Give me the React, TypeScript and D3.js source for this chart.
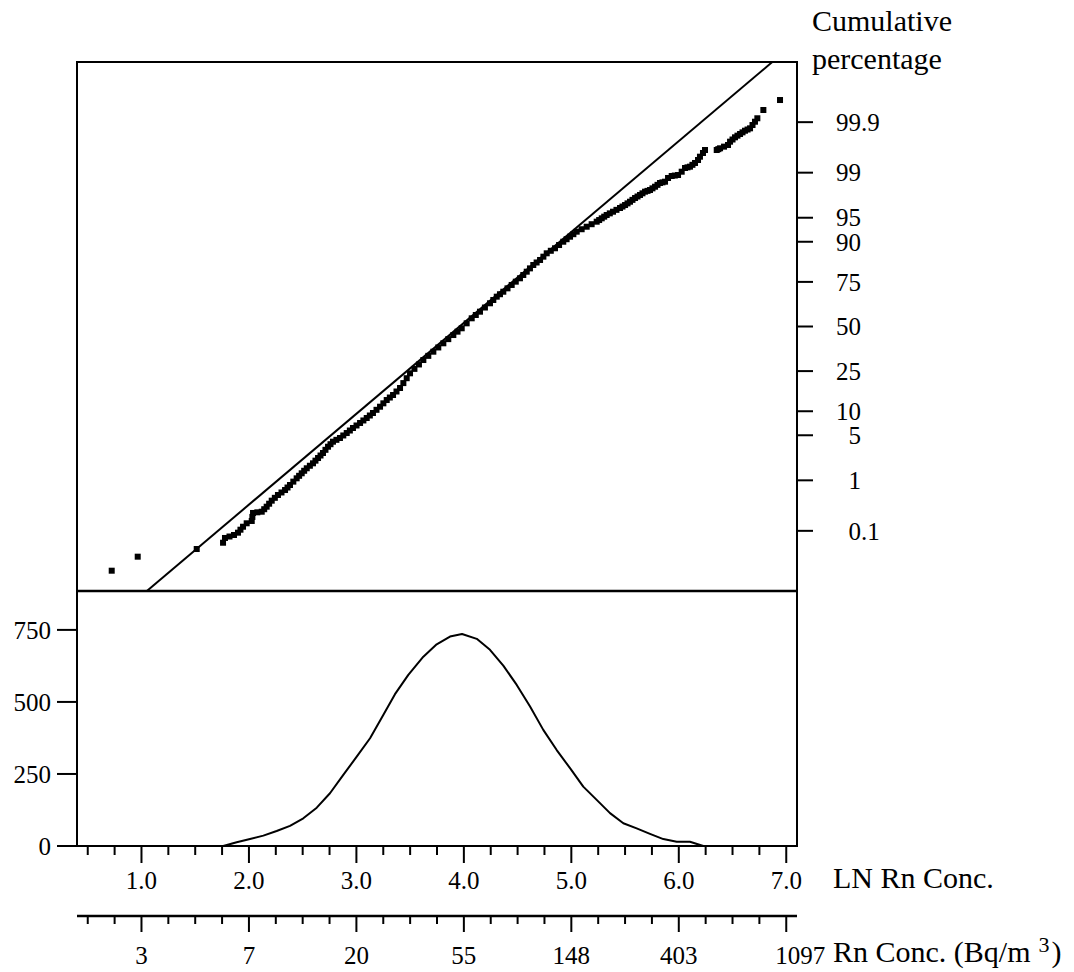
import React from 'react';
import * as d3 from 'd3';

// ---------- data ----------
const lnMajor = [1, 2, 3, 4, 5, 6, 7];
const lnLabels = ['1.0', '2.0', '3.0', '4.0', '5.0', '6.0', '7.0'];
const rnLabels = ['3', '7', '20', '55', '148', '403', '1097'];
const pctTicks = [0.1, 1, 5, 10, 25, 50, 75, 90, 95, 99, 99.9];
const pctLabels = ['0.1', '1', '5', '10', '25', '50', '75', '90', '95', '99', '99.9'];
const countTicks = [0, 250, 500, 750];

// cumulative probability plot points: LN concentration and normal score
const pointLN = [0.723, 0.965, 1.514, 1.759, 1.777, 1.819, 1.861, 1.898, 1.921, 1.945,
  1.979, 2.026, 2.032, 2.038, 2.078, 2.119, 2.142, 2.165, 2.188, 2.212,
  2.241, 2.270, 2.303, 2.336, 2.359, 2.382, 2.413, 2.444, 2.467, 2.491,
  2.514, 2.538, 2.567, 2.596, 2.619, 2.643, 2.666, 2.689, 2.712, 2.736,
  2.759, 2.782, 2.814, 2.847, 2.878, 2.910, 2.939, 2.968, 3.001, 3.034,
  3.065, 3.096, 3.125, 3.154, 3.187, 3.220, 3.251, 3.282, 3.311, 3.341,
  3.373, 3.406, 3.437, 3.468, 3.499, 3.540, 3.582, 3.623, 3.669, 3.716,
  3.762, 3.809, 3.855, 3.902, 3.941, 3.980, 4.026, 4.073, 4.111, 4.150,
  4.196, 4.243, 4.274, 4.306, 4.336, 4.367, 4.406, 4.445, 4.483, 4.522,
  4.553, 4.585, 4.615, 4.646, 4.677, 4.709, 4.740, 4.771, 4.809, 4.848,
  4.886, 4.925, 4.956, 4.988, 5.019, 5.050, 5.096, 5.143, 5.189, 5.236,
  5.259, 5.283, 5.306, 5.329, 5.358, 5.388, 5.420, 5.453, 5.476, 5.500,
  5.523, 5.546, 5.569, 5.593, 5.616, 5.639, 5.662, 5.686, 5.709, 5.732,
  5.755, 5.779, 5.802, 5.825, 5.848, 5.872, 5.900, 5.934, 5.963, 5.993,
  6.027, 6.058, 6.081, 6.104, 6.127, 6.151, 6.179, 6.197, 6.225, 6.244,
  6.353, 6.368, 6.384, 6.421, 6.458, 6.477, 6.500, 6.523, 6.546, 6.570,
  6.593, 6.616, 6.640, 6.663, 6.686, 6.709, 6.731, 6.787, 6.942];
const pointZ = [-3.693, -3.481, -3.365, -3.270, -3.198, -3.176, -3.153, -3.118, -3.073, -3.028,
  -2.976, -2.941, -2.880, -2.820, -2.810, -2.801, -2.763, -2.725, -2.680, -2.634,
  -2.591, -2.548, -2.510, -2.473, -2.435, -2.397, -2.346, -2.296, -2.258, -2.220,
  -2.182, -2.144, -2.106, -2.069, -2.029, -1.989, -1.951, -1.913, -1.865, -1.818,
  -1.780, -1.742, -1.714, -1.686, -1.648, -1.611, -1.573, -1.535, -1.497, -1.459,
  -1.421, -1.384, -1.346, -1.308, -1.260, -1.213, -1.162, -1.112, -1.074, -1.036,
  -0.983, -0.930, -0.856, -0.782, -0.708, -0.641, -0.574, -0.507, -0.444, -0.381,
  -0.317, -0.254, -0.191, -0.129, -0.078, -0.027, 0.048, 0.124, 0.174, 0.224,
  0.287, 0.351, 0.401, 0.451, 0.488, 0.526, 0.577, 0.628, 0.678, 0.729,
  0.779, 0.829, 0.879, 0.930, 0.968, 1.006, 1.056, 1.107, 1.145, 1.183,
  1.232, 1.282, 1.320, 1.358, 1.396, 1.434, 1.471, 1.509, 1.547, 1.585,
  1.610, 1.636, 1.661, 1.686, 1.711, 1.736, 1.764, 1.792, 1.814, 1.837,
  1.862, 1.887, 1.915, 1.943, 1.966, 1.989, 2.014, 2.039, 2.051, 2.064,
  2.089, 2.114, 2.142, 2.170, 2.180, 2.190, 2.246, 2.276, 2.283, 2.291,
  2.341, 2.397, 2.407, 2.417, 2.445, 2.473, 2.518, 2.568, 2.624, 2.669,
  2.669, 2.682, 2.695, 2.720, 2.745, 2.795, 2.828, 2.861, 2.886, 2.911,
  2.936, 2.961, 2.979, 2.997, 3.047, 3.097, 3.149, 3.274, 3.425];

// fitted normal line (LN, normal score)
const fitLN = [1.05, 6.87];
const fitZ = [-4, 4];

// frequency curve
const curveLN = [1.761, 1.886, 2.010, 2.134, 2.258, 2.382, 2.506, 2.631, 2.754, 2.878,
  3.003, 3.127, 3.250, 3.359, 3.483, 3.623, 3.747, 3.871, 3.983, 4.120,
  4.243, 4.367, 4.492, 4.616, 4.739, 4.864, 4.988, 5.111, 5.236, 5.360,
  5.484, 5.608, 5.732, 5.856, 5.981, 6.104, 6.228];
const curveCount = [0, 13, 24, 36, 52, 70, 96, 133, 183, 247,
  310, 374, 455, 527, 594, 657, 700, 727, 736, 719,
  681, 626, 559, 484, 403, 333, 270, 206, 160, 114,
  79, 61, 42, 24, 15, 15, 0];

// inverse standard normal CDF (Acklam)
function probit(p: number): number {
  const a = [-39.69683028665376, 220.9460984245205, -275.9285104469687, 138.3577518672690, -30.66479806614716, 2.506628277459239];
  const b = [-54.47609879822406, 161.5858368580409, -155.6989798598866, 66.80131188771972, -13.28068155288572];
  const c = [-0.007784894002430293, -0.3223964580411365, -2.400758277161838, -2.549732539343734, 4.374664141464968, 2.938163982698783];
  const d = [0.007784695709041462, 0.3224671290700398, 2.445134137142996, 3.754408661907416];
  const pl = 0.02425;
  if (p < pl) {
    const q = Math.sqrt(-2 * Math.log(p));
    return (((((c[0] * q + c[1]) * q + c[2]) * q + c[3]) * q + c[4]) * q + c[5]) / ((((d[0] * q + d[1]) * q + d[2]) * q + d[3]) * q + 1);
  }
  if (p > 1 - pl) {
    const q = Math.sqrt(-2 * Math.log(1 - p));
    return -(((((c[0] * q + c[1]) * q + c[2]) * q + c[3]) * q + c[4]) * q + c[5]) / ((((d[0] * q + d[1]) * q + d[2]) * q + d[3]) * q + 1);
  }
  const q = p - 0.5;
  const r = q * q;
  return (((((a[0] * r + a[1]) * r + a[2]) * r + a[3]) * r + a[4]) * r + a[5]) * q / (((((b[0] * r + b[1]) * r + b[2]) * r + b[3]) * r + b[4]) * r + 1);
}

export default function App() {
  const W = 1074, H = 972;
  const L = 77, R = 797, T = 62, M = 591, B = 846;
  const axis2 = 916;
  const font = '"Liberation Serif", "Times New Roman", serif';
  const tickFs = 25;
  const titleFs = 30;

  const x = d3.scaleLinear().domain([0.4, 7.1]).range([L, R]);
  const yZ = d3.scaleLinear().domain([-4, 4]).range([M, T]);
  const yC = d3.scaleLinear().domain([0, 885]).range([B, M]);

  const minor = d3.range(0.5, 7.001, 0.25).filter((v) => Math.abs(v - Math.round(v)) > 1e-6);

  const fitLine = d3.line<number>().x((_, i) => x(fitLN[i])).y((d) => yZ(d))(fitZ) || '';
  const curvePath = d3.line<number>().x((_, i) => x(curveLN[i])).y((d) => yC(d))(curveCount) || '';

  const sq = 6;

  const axisTicks = (y0: number, majorLen: number, minorLen: number, key: string) => (
    <g key={key}>
      {minor.map((v) => (
        <line key={'m' + v} x1={x(v)} x2={x(v)} y1={y0} y2={y0 + minorLen} stroke="#000" strokeWidth={2} />
      ))}
      {lnMajor.map((v) => (
        <line key={'M' + v} x1={x(v)} x2={x(v)} y1={y0} y2={y0 + majorLen} stroke="#000" strokeWidth={2} />
      ))}
    </g>
  );

  return (
    <div style={{ position: 'absolute', left: 0, top: 0 }}>
      <svg width={W} height={H} style={{ display: 'block', background: '#fff' }} fontFamily={font}>
        <rect x={0} y={0} width={W} height={H} fill="#fff" />
        {/* frame */}
        <rect x={L} y={T} width={R - L} height={B - T} fill="none" stroke="#000" strokeWidth={2} />
        <line x1={L} x2={R} y1={M} y2={M} stroke="#000" strokeWidth={2.5} />

        {/* fitted line */}
        <path d={fitLine} fill="none" stroke="#000" strokeWidth={2} />

        {/* points */}
        {pointLN.map((v, i) => (
          <rect key={i} x={x(v) - sq / 2} y={yZ(pointZ[i]) - sq / 2} width={sq} height={sq} fill="#000" />
        ))}

        {/* frequency curve */}
        <path d={curvePath} fill="none" stroke="#000" strokeWidth={2} strokeLinejoin="round" />

        {/* right axis: cumulative percentage */}
        {pctTicks.map((p, i) => {
          const yy = yZ(probit(p / 100));
          const lab = pctLabels[i];
          const parts = lab.split('.');
          return (
            <g key={'p' + p}>
              <line x1={R} x2={R + 16} y1={yy} y2={yy} stroke="#000" strokeWidth={2} />
              <text x={861} y={yy} dy="0.35em" fontSize={tickFs} textAnchor="end">{parts[0]}</text>
              {parts[1] !== undefined && (
                <text x={861} y={yy} dy="0.35em" fontSize={tickFs} textAnchor="start">{'.' + parts[1]}</text>
              )}
            </g>
          );
        })}
        <text x={812} y={31} fontSize={titleFs}>Cumulative</text>
        <text x={812} y={69} fontSize={titleFs}>percentage</text>

        {/* left axis: counts */}
        {countTicks.map((c) => (
          <g key={'c' + c}>
            <line x1={L - 20} x2={L} y1={yC(c)} y2={yC(c)} stroke="#000" strokeWidth={2} />
            <text x={51} y={yC(c)} dy="0.35em" fontSize={tickFs} textAnchor="end">{c}</text>
          </g>
        ))}

        {/* LN axis */}
        {axisTicks(B, 17, 9, 'ax1')}
        {lnMajor.map((v, i) => (
          <text key={'l' + v} x={x(v)} y={889} fontSize={tickFs} textAnchor="middle">{lnLabels[i]}</text>
        ))}
        <text x={833} y={888} fontSize={titleFs}>LN Rn Conc.</text>

        {/* Rn axis */}
        <line x1={L} x2={R} y1={axis2} y2={axis2} stroke="#000" strokeWidth={2.5} />
        {axisTicks(axis2, 16, 8, 'ax2')}
        {lnMajor.map((v, i) => (
          <text key={'r' + v} x={x(v) + (i === lnMajor.length - 1 ? 14 : 0)} y={964} fontSize={tickFs} textAnchor="middle">{rnLabels[i]}</text>
        ))}
        <text x={833} y={962} fontSize={titleFs}>
          Rn Conc. (Bq/m
          <tspan dx={8} dy={-10} fontSize={22}>3</tspan>
          <tspan dx={2} dy={10}>)</tspan>
        </text>
      </svg>
    </div>
  );
}
